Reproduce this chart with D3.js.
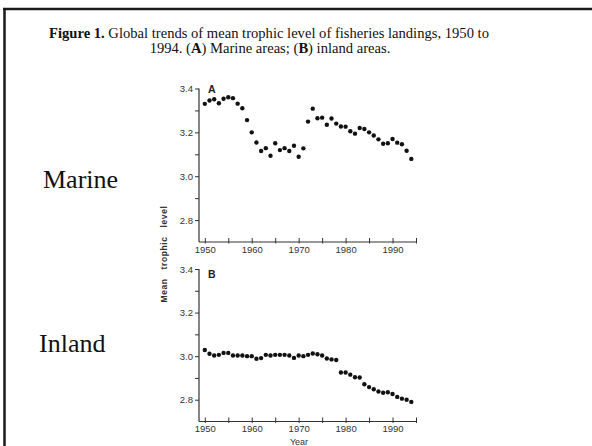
<!DOCTYPE html>
<html>
<head>
<meta charset="utf-8">
<script src="https://cdn.jsdelivr.net/npm/d3@7/dist/d3.min.js"></script>
<style>
  html, body { margin: 0; padding: 0; background: #fff; }
  svg { display: block; }
  .tick text { font-family: "Liberation Sans", Arial, sans-serif; font-size: 9.5px; fill: #333; }
  .domain, .tick line { stroke: #333; }
</style>
</head>
<body>
<svg id="chart" width="592" height="446"></svg>
<script>
// ---- data ----
const years = d3.range(1950, 1995);
const marineLevel = [3.330, 3.345, 3.351, 3.333, 3.353, 3.360, 3.356, 3.331, 3.310, 3.256,
                     3.200, 3.154, 3.115, 3.128, 3.093, 3.150, 3.119, 3.128, 3.115, 3.139,
                     3.089, 3.127, 3.249, 3.308, 3.264, 3.267, 3.235, 3.263, 3.240, 3.227,
                     3.226, 3.205, 3.194, 3.220, 3.215, 3.200, 3.186, 3.168, 3.148, 3.150,
                     3.170, 3.153, 3.146, 3.116, 3.079];
const inlandLevel = [3.028, 3.011, 3.003, 3.006, 3.015, 3.015, 3.003, 3.003, 3.003, 3.000,
                     3.000, 2.988, 2.991, 3.006, 3.003, 3.006, 3.006, 3.006, 3.003, 2.992,
                     3.003, 3.000, 3.006, 3.012, 3.009, 3.003, 2.989, 2.985, 2.982, 2.925,
                     2.925, 2.915, 2.903, 2.902, 2.871, 2.858, 2.848, 2.838, 2.832, 2.834,
                     2.826, 2.813, 2.805, 2.800, 2.790];
const yMajorTicks = [2.8, 3.0, 3.2, 3.4];
const yMinorTicks = [2.9, 3.1, 3.3];
const xMajorTicks = [1950, 1960, 1970, 1980, 1990];
const xMinorTicks = [1955, 1965, 1975, 1985, 1995];
const panelLetters = ["A", "B"];
const panelNames = ["Marine", "Inland"];
const titleLine1 = [["Figure 1.", true], [" Global trends of mean trophic level of fisheries landings, 1950 to", false]];
const titleLine2 = [["1994. ", false], ["(", false], ["A", true], [") Marine areas; (", false], ["B", true], [") inland areas.", false]];

const svg = d3.select("#chart");

// frame (top and left edges)
svg.append("line").attr("x1", 3).attr("x2", 592).attr("y1", 9).attr("y2", 9)
  .attr("stroke", "#1a1a1a").attr("stroke-width", 2.5);
svg.append("line").attr("x1", 4.5).attr("x2", 4.5).attr("y1", 8).attr("y2", 446)
  .attr("stroke", "#1a1a1a").attr("stroke-width", 2.5);

// title
const title = svg.append("text").attr("text-anchor", "middle")
  .attr("font-family", "'Liberation Serif', 'Times New Roman', serif")
  .attr("font-size", 14.6).attr("fill", "#111");
const t1 = title.append("tspan").attr("x", 269).attr("y", 38);
titleLine1.forEach(([s, b]) => t1.append("tspan").text(s).attr("font-weight", b ? "bold" : null));
const t2 = title.append("tspan").attr("x", 270).attr("y", 53);
titleLine2.forEach(([s, b]) => t2.append("tspan").text(s).attr("font-weight", b ? "bold" : null));

const x = d3.scaleLinear().domain([1950, 1995]).range([204.8, 416]);

const panels = [
  { values: marineLevel, top: 88.5, bottom: 242, nameY: 188, letterY: 93 },
  { values: inlandLevel, top: 269, bottom: 421.5, nameY: 351.5, letterY: 278 }
];

panels.forEach((p, i) => {
  const y = d3.scaleLinear().domain([2.7, 3.4]).range([p.bottom, p.top]);
  const g = svg.append("g");
  const axisX = 199;

  // y axis
  const ya = g.append("g").attr("transform", `translate(${axisX},0)`)
    .call(d3.axisLeft(y).tickValues(yMajorTicks).tickFormat(d3.format(".1f")).tickSize(4).tickPadding(2));
  g.append("g").attr("transform", `translate(${axisX},0)`)
    .call(d3.axisLeft(y).tickValues(yMinorTicks).tickFormat("").tickSize(4))
    .select(".domain").remove();
  ya.select(".domain").attr("d", `M0,${p.top}V${p.bottom}`);

  // x axis
  const xa = g.append("g").attr("transform", `translate(0,${p.bottom})`)
    .call(d3.axisBottom(x).tickValues(xMajorTicks).tickFormat(d3.format("d")).tickSizeInner(-4).tickSizeOuter(0).tickPadding(4));
  xa.select(".domain").attr("d", `M${axisX},0H${x(1995)}`);
  xa.selectAll(".tick line").attr("y1", 1.5);
  xa.selectAll(".tick text").attr("dy", "0.71em");
  const xm = g.append("g").attr("transform", `translate(0,${p.bottom})`)
    .call(d3.axisBottom(x).tickValues(xMinorTicks).tickFormat("").tickSizeInner(-4).tickSizeOuter(0));
  xm.select(".domain").remove();
  xm.selectAll(".tick line").attr("y1", 1.5);
  g.selectAll(".domain").attr("stroke-width", 1.2);

  // dots
  g.selectAll("circle.pt").data(p.values).join("circle").attr("class", "pt")
    .attr("cx", (d, k) => x(years[k])).attr("cy", d => y(d))
    .attr("r", 2.2).attr("fill", "#111");

  // panel letter
  g.append("text").attr("x", 208).attr("y", p.letterY)
    .attr("font-family", "'Liberation Sans', Arial, sans-serif").attr("font-size", 10.5)
    .attr("font-weight", "bold").attr("fill", "#222").text(panelLetters[i]);

  // panel name
  svg.append("text").attr("x", i === 0 ? 43 : 39).attr("y", p.nameY)
    .attr("font-family", "'Liberation Serif', 'Times New Roman', serif")
    .attr("font-size", 26).attr("fill", "#111").text(panelNames[i]);
});

// y axis title
svg.append("text").attr("transform", "translate(167,254) rotate(-90)")
  .attr("text-anchor", "middle")
  .attr("font-family", "'Liberation Sans', Arial, sans-serif").attr("font-size", 8.5)
  .attr("font-weight", "bold").attr("letter-spacing", 0.6).attr("word-spacing", 6)
  .attr("fill", "#333").text("Mean trophic level");

// x axis title
svg.append("text").attr("x", 299).attr("y", 445).attr("text-anchor", "middle")
  .attr("font-family", "'Liberation Sans', Arial, sans-serif").attr("font-size", 9)
  .attr("fill", "#333").text("Year");
</script>
</body>
</html>
